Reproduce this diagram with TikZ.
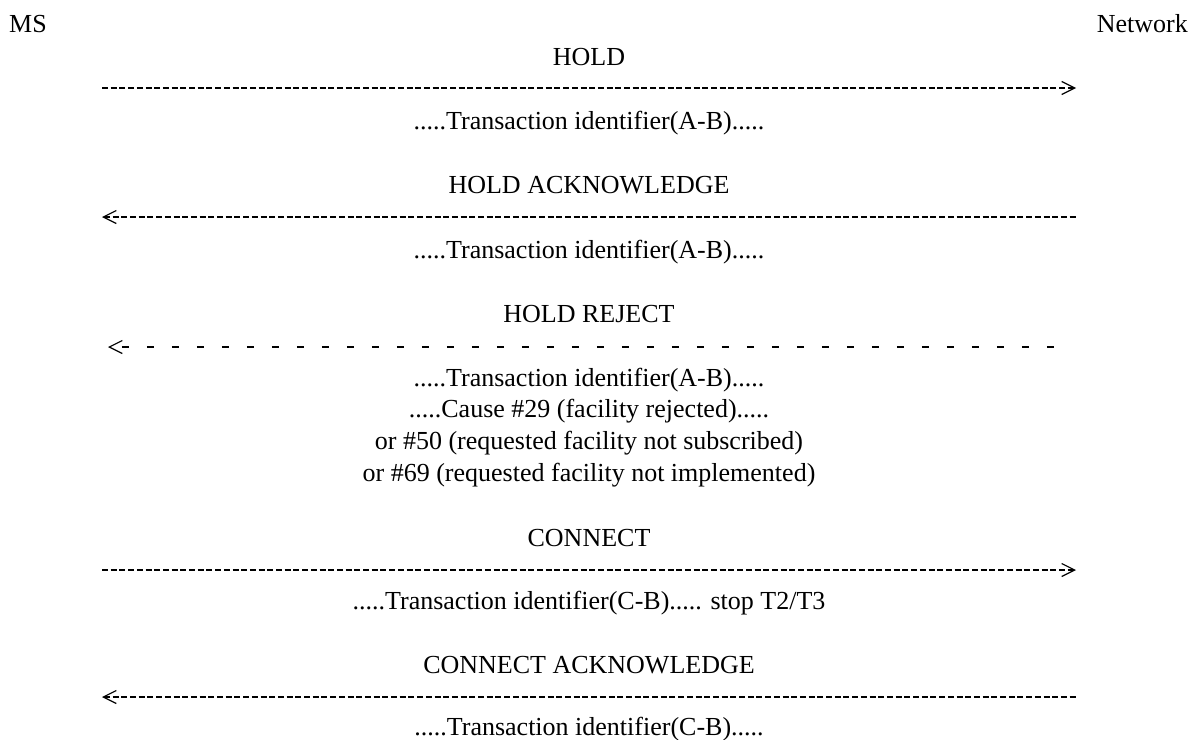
\documentclass[tikz,border=0pt]{standalone}
\usepackage{fontspec}
\setmainfont{Liberation Serif}
\usetikzlibrary{arrows.meta}
\begin{document}
\begin{tikzpicture}[x=1pt,y=-1pt,
  lbl/.style={anchor=base, inner sep=0pt, font=\fontsize{26}{31}\selectfont},
  msg/.style={line width=1.6pt, dash pattern=on 6pt off 2.7pt},
  rej/.style={line width=1.6pt, dash pattern=on 7pt off 18pt, dash phase=13pt},
  toR/.style={-{Straight Barb[length=13pt,width=13pt,line width=1.2pt]}},
  toL/.style={{Straight Barb[length=13pt,width=13pt,line width=1.2pt]}-}]
\useasboundingbox (0,0) rectangle (1193,739);
% parties
\node[lbl, anchor=base west] (ms) at (9,32) {MS};
\node[lbl, anchor=base east] (net) at (1188,32) {Network};
% arrow end points
\coordinate (l1) at (102,88);  \coordinate (r1) at (1076,88);
\coordinate (l2) at (102,217); \coordinate (r2) at (1076,217);
\coordinate (l3) at (108,347); \coordinate (r3) at (1070,347);
\coordinate (l4) at (102,570); \coordinate (r4) at (1076,570);
\coordinate (l5) at (102,697); \coordinate (r5) at (1076,697);
% HOLD
\node[lbl] (t1) at (589,65) {HOLD};
\draw[msg, toR] (l1) -- (r1);
\node[lbl] (p1) at (589,129.5) {.....Transaction identifier(A-B).....};
% HOLD ACKNOWLEDGE
\node[lbl] (t2) at (589,193) {HOLD ACKNOWLEDGE};
\draw[msg, toL] (l2) -- (r2);
\node[lbl] (p2) at (589,258) {.....Transaction identifier(A-B).....};
% HOLD REJECT
\node[lbl] (t3) at (589,322) {HOLD REJECT};
\draw[rej, toL] (l3) -- (r3);
\node[lbl] (p3a) at (589,386) {.....Transaction identifier(A-B).....};
\node[lbl] (p3b) at (589,417.7) {.....Cause \#29 (facility rejected).....};
\node[lbl] (p3c) at (589,449.3) {or \#50 (requested facility not subscribed)};
\node[lbl] (p3d) at (589,481) {or \#69 (requested facility not implemented)};
% CONNECT
\node[lbl] (t4) at (589,546) {CONNECT};
\draw[msg, toR] (l4) -- (r4);
\node[lbl] (p4) at (589,609.5) {.....Transaction identifier(C-B)..... stop T2/T3};
% CONNECT ACKNOWLEDGE
\node[lbl] (t5) at (589,673.5) {CONNECT ACKNOWLEDGE};
\draw[msg, toL] (l5) -- (r5);
\node[lbl] (p5) at (589,735) {.....Transaction identifier(C-B).....};
\end{tikzpicture}
\end{document}
